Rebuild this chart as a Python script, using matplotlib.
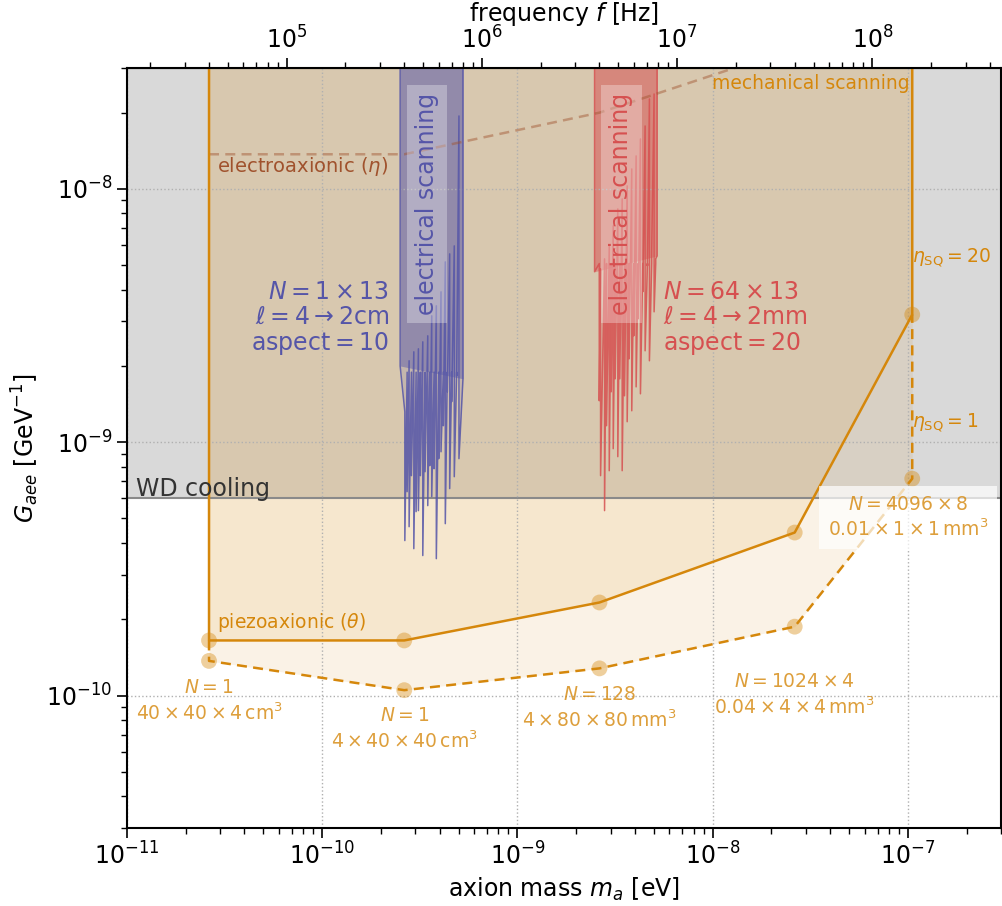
import matplotlib.pyplot as plt
import numpy as np

HBAR = 6.582e-16  # eV s, top axis shows m/hbar

# piezoaxionic design points (frequency in Hz)
f_pts = [4e4, 4e5, 4e6, 4e7, 1.6e8]
G_solid = [1.65e-10, 1.65e-10, 2.33e-10, 4.40e-10, 3.19e-9]   # eta_SQ = 20
G_dashed = [1.37e-10, 1.05e-10, 1.28e-10, 1.87e-10, 7.18e-10]  # eta_SQ = 1
pt_labels = [r'$N=1$' + '\n' + r'$40\times40\times4\,\mathrm{cm}^3$',
             r'$N=1$' + '\n' + r'$4\times40\times40\,\mathrm{cm}^3$',
             r'$N=128$' + '\n' + r'$4\times80\times80\,\mathrm{mm}^3$',
             r'$N=1024\times4$' + '\n' + r'$0.04\times4\times4\,\mathrm{mm}^3$',
             r'$N=4096\times8$' + '\n' + r'$0.01\times1\times1\,\mathrm{mm}^3$']

# electroaxionic curve
G_electro = [1.37e-8, 1.37e-8, 2.0e-8, 3.6e-8]

# white dwarf cooling bound
G_wd = 6.0e-10

# electrical scanning, blue (cm) band, masses in eV, G in GeV^-1
blue_edges = [2.508e-10, 5.262e-10]
blue_bg = [2.0e-9, 1.78e-9]
blue_m = np.array([2.651, 2.788, 2.947, 3.111, 3.276, 3.474, 3.641,
                   3.843, 4.062, 4.272, 4.499, 4.749, 5.019]) * 1e-10
blue_peak = np.array([1.319, 2.097, 2.275, 2.338, 2.491, 2.631, 3.155,
                      3.455, 3.924, 5.152, 5.541, 5.958, 19.41]) * 1e-9
blue_dip = np.array([0.409, 0.464, 0.380, 0.537, 0.357, 0.562, 0.610,
                     0.347, 0.917, 0.477, 0.656, 0.731, 0.861]) * 1e-9
blue_m2 = np.array([2.724, 2.865, 3.028, 3.185, 3.366, 3.557, 3.741,
                    3.953, 4.173, 4.374, 4.606, 4.885]) * 1e-10
blue_dip2 = np.array([0.638, 0.738, 0.532, 0.738, 0.765, 0.808, 0.786,
                      0.861, 1.162, 1.582, 1.445, 1.829]) * 1e-9

# electrical scanning, red (mm) band
red_edges = [2.485e-9, 5.194e-9]
red_bg = [4.71e-9, 5.44e-9]
red_m = np.array([2.667, 2.795, 2.954, 3.096, 3.268, 3.441, 3.650,
                  3.853, 4.057, 4.268, 4.510, 4.745, 5.014]) * 1e-9
red_peak = np.array([4.834, 5.296, 5.958, 7.145, 8.340, 9.132, 10.28,
                     11.99, 13.50, 15.75, 17.72, 22.65, 23.7]) * 1e-9
red_dip = np.array([0.738, 0.537, 0.772, 0.943, 0.877, 0.772, 1.205,
                    1.331, 1.654, 1.553, 2.296, 2.097, 3.272]) * 1e-9
red_m2 = np.array([2.626, 2.861, 3.024, 3.170, 3.345, 3.536, 3.737,
                   3.945, 4.154, 4.386, 4.635, 4.874, 5.110]) * 1e-9
red_dip2 = np.array([1.458, 1.162, 1.582, 1.780, 1.780, 1.525, 2.135,
                     2.631, 3.071, 3.924, 4.969, 5.643, 5.296]) * 1e-9

ORANGE = '#d5870b'
BLUE = '#5555a8'
RED = '#d65050'
TOP = 1e-6

plt.rcParams['font.size'] = 17
plt.rcParams['mathtext.fontset'] = 'dejavusans'

fig = plt.figure(figsize=(10.02, 9.06), dpi=100)
ax = fig.add_axes([0.1267, 0.0861, 0.8723, 0.8388])
ax.set_xscale('log')
ax.set_yscale('log')

m_pts = np.array(f_pts) * HBAR

# WD cooling
ax.axhspan(G_wd, TOP, color='#d9d9d9', lw=0, zorder=0)
ax.axhline(G_wd, color='#8a8a8a', lw=1.5, zorder=1.2)
ax.annotate('WD cooling', (0.01, G_wd), xycoords=('axes fraction', 'data'),
            xytext=(0, 7), textcoords='offset points', ha='left', va='center',
            color='#333333', fontsize=17)

# piezoaxionic region
ax.fill_between(m_pts, G_solid, TOP, color=ORANGE, alpha=0.2, lw=0, zorder=1)
ax.fill_between(m_pts, G_dashed, G_solid, color=ORANGE, alpha=0.1, lw=0, zorder=1)
ax.plot(np.r_[m_pts[0], m_pts, m_pts[-1]], np.r_[TOP, G_solid, TOP],
        color=ORANGE, lw=1.8, zorder=2.5)
ax.plot(np.r_[m_pts[0], m_pts, m_pts[-1]], np.r_[G_solid[0], G_dashed, G_solid[-1]],
        color=ORANGE, lw=1.8, ls=(0, (4, 2.5)), zorder=2.5)
ax.scatter(np.r_[m_pts, m_pts], np.r_[G_solid, G_dashed], s=130, color=ORANGE,
           alpha=0.4, edgecolors='none', zorder=2.6)

offsets = [(0, -29), (0, -28), (0, -28.5), (0, -49), (-3, -28)]
for i, (m, g, lab, off) in enumerate(zip(m_pts, G_dashed, pt_labels, offsets)):
    box = None
    if i == len(pt_labels) - 1:
        box = dict(boxstyle='square,pad=0.45', fc='white', ec='none', alpha=0.7)
    ax.annotate(lab, (m, g), xytext=off, textcoords='offset points', ha='center',
                va='center', fontsize=13.5, color=ORANGE, alpha=0.8, linespacing=1.3,
                bbox=box)

ax.annotate(r'piezoaxionic ($\theta$)', (m_pts[0], G_solid[0]), xytext=(6, 13),
            textcoords='offset points', ha='left', va='center', fontsize=13.5,
            color=ORANGE)
ax.annotate(r'$\eta_\mathrm{SQ}=20$', (m_pts[-1], G_solid[-1]), xytext=(0, 41),
            textcoords='offset points', ha='left', va='center', fontsize=13.5,
            color=ORANGE)
ax.annotate(r'$\eta_\mathrm{SQ}=1$', (m_pts[-1], G_dashed[-1]), xytext=(0, 40),
            textcoords='offset points', ha='left', va='center', fontsize=13.5,
            color=ORANGE)
ax.annotate('mechanical scanning', (m_pts[-1], 1.0), xycoords=('data', 'axes fraction'),
            xytext=(-2, -11), textcoords='offset points', ha='right', va='center',
            fontsize=13.5, color=ORANGE)

# electroaxionic
ax.plot(m_pts[:4], G_electro, color='#a0522d', alpha=0.45, lw=1.8, ls=(0, (4, 2.5)),
        zorder=2.4)
ax.annotate(r'electroaxionic ($\eta$)', (m_pts[0], G_electro[0]), xytext=(6, -9),
            textcoords='offset points', ha='left', va='center', fontsize=14,
            color='#a0522d')

# electrical scanning bands
bands = [(blue_edges, blue_bg, blue_m, blue_peak, blue_dip, blue_m2, blue_dip2, BLUE),
         (red_edges, red_bg, red_m, red_peak, red_dip, red_m2, red_dip2, RED)]
for edges, bg, mm, pk, dp, mm2, dp2, col in bands:
    # resonance trace: each resonance drawn from its top value down to its dip
    res_m = np.r_[mm, mm2]
    res_hi = np.r_[pk, np.full(len(mm2), np.mean(bg))]
    res_lo = np.r_[dp, dp2]
    order = np.argsort(res_m)
    tr_m = np.r_[edges[0], edges[0], np.repeat(res_m[order], 2), edges[1], edges[1]]
    tr_G = np.r_[TOP, bg[0], np.column_stack([res_hi[order], res_lo[order]]).ravel(),
                 bg[1], TOP]
    ax.fill_between(edges, bg, TOP, color=col, alpha=0.45, lw=0, zorder=1.1)
    ax.fill_between(tr_m, tr_G, TOP, color=col, alpha=0.15, lw=0, zorder=1.1)
    ax.plot(tr_m, tr_G, color=col, lw=1.1, alpha=0.85, zorder=2)
    ax.annotate('electrical scanning', (np.sqrt(edges[0] * edges[1]), 0.821),
                xycoords=('data', 'axes fraction'), xytext=(-3.2, 0),
                textcoords='offset points', rotation=90, ha='center', va='center',
                fontsize=17, color=col,
                bbox=dict(boxstyle='square,pad=0.35', fc='white', ec='none', alpha=0.3))

ax.annotate(r'$N=1\times13$' + '\n' + r'$\ell=4\rightarrow2$cm' + '\n' + r'$\mathrm{aspect}=10$',
            (blue_edges[0], 3.07e-9), xytext=(-8, 0), textcoords='offset points',
            ha='right', va='center', fontsize=17, color=BLUE, linespacing=1.05)
ax.annotate(r'$N=64\times13$' + '\n' + r'$\ell=4\rightarrow2$mm' + '\n' + r'$\mathrm{aspect}=20$',
            (red_edges[1], 3.07e-9), xytext=(4, 0), textcoords='offset points',
            ha='left', va='center', fontsize=17, color=RED, linespacing=1.05)

ax.set_xlim(1e-11, 3e-7)
ax.set_ylim(3e-11, 3e-8)
ax.grid(True, which='major', ls=':', color='#b0b0b0', lw=1.0)
ax.set_xlabel(r'axion mass $m_a$ [eV]', fontsize=17)
ax.set_ylabel(r'$G_{aee}$ [GeV$^{-1}$]', fontsize=17)
ax.tick_params(which='major', length=7, width=1.2, labelsize=17)
ax.tick_params(which='minor', length=4, width=1.0)
for s in ax.spines.values():
    s.set_linewidth(1.5)

sec = ax.secondary_xaxis('top', functions=(lambda m: m / HBAR, lambda f: f * HBAR))
sec.set_xlabel(r'frequency $f$ [Hz]', fontsize=17)
sec.tick_params(which='major', length=7, width=1.2, labelsize=17)
sec.tick_params(which='minor', length=4, width=1.0)

fig.savefig('out.png', dpi=100)
